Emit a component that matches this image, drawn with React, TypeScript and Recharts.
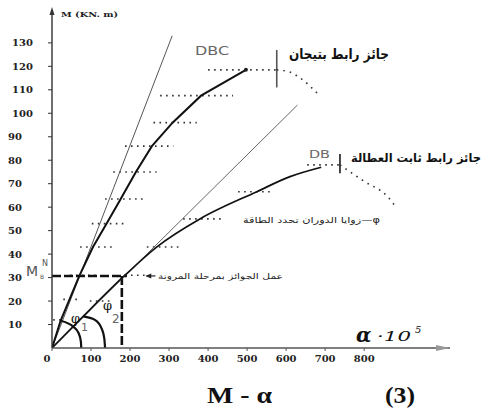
import React from 'react';
import { ComposedChart, Line, XAxis, YAxis, ReferenceLine, ReferenceDot } from 'recharts';

const xTicks = [0, 100, 200, 300, 400, 500, 600, 700, 800];
const yTicks = [10, 20, 30, 40, 50, 60, 70, 80, 90, 100, 110, 120, 130];

const steepRef = [{ x: 0, y: 0 }, { x: 308, y: 133 }];
const shallowRef = [{ x: 0, y: 0 }, { x: 629, y: 103.5 }];

const dbcCurve = [
  { x: 0, y: 0 }, { x: 22, y: 11.6 }, { x: 70, y: 30.7 }, { x: 105, y: 43 },
  { x: 140, y: 53 }, { x: 176, y: 63.5 }, { x: 215, y: 75 }, { x: 256, y: 86 },
  { x: 309, y: 96 }, { x: 382, y: 107.5 }, { x: 497, y: 118.5 },
];
const dbCurve = [
  { x: 0, y: 0 }, { x: 80, y: 13.5 }, { x: 187, y: 31 }, { x: 268, y: 43 },
  { x: 379, y: 55 }, { x: 525, y: 66.6 }, { x: 610, y: 73 }, { x: 690, y: 77 },
];
const dbcTail = [{ x: 576, y: 118.5 }, { x: 607, y: 117.7 }, { x: 637, y: 114.9 }, { x: 680, y: 108.5 }];
const dbTail = [{ x: 738, y: 78 }, { x: 800, y: 71 }, { x: 860, y: 64.5 }, { x: 877, y: 61 }];

const phi1Arc = [{ x: 22, y: 11.6 }, { x: 55, y: 9 }, { x: 68, y: 6.4 }, { x: 74, y: 2.7 }, { x: 75, y: 0 }];
const phi2Arc = [{ x: 80, y: 13.5 }, { x: 110, y: 12 }, { x: 127, y: 8.4 }, { x: 134, y: 4.1 }, { x: 136, y: 0 }];

// [level, from, to]
const dbcBands: [number, number, number][] = [
  [12, 3, 29], [20.7, 29, 72], [31, 46, 123], [43, 72, 153], [53, 102, 187],
  [63.5, 136, 243], [75, 157, 268], [86, 187, 311], [96, 260, 371],
  [107.5, 277, 464], [118.5, 400, 576],
];
const dbBands: [number, number, number][] = [
  [20, 97, 157], [31, 187, 238], [43, 243, 328], [55, 336, 438],
  [66.6, 477, 564], [78, 654, 738],
];

const mbn = 30.7;
const elasticX = 179;
const dbcBarX = 576;
const dbBarX = 738;

const YTick = (props: any) => {
  const { y, payload } = props;
  const v = payload.value;
  return (
    <text x={v >= 100 ? 12 : 8} y={y} dy={3.5} fontFamily="DejaVu Serif" fontWeight="bold" fontSize={10} fill="#222">
      {v}
    </text>
  );
};

const XTick = (props: any) => {
  const { x, payload } = props;
  const v = payload.value;
  return (
    <text x={x + (v === 0 ? -5 : 0)} y={362} textAnchor="middle" fontFamily="DejaVu Serif" fontWeight="bold" fontSize={10} fill="#222">
      {v}
    </text>
  );
};

const ArrowRight = (p: any) => (
  <path d={`M${p.cx},${p.cy} L${p.cx - 14},${p.cy - 3} L${p.cx - 14},${p.cy + 3} Z`} fill="#999" />
);
const ArrowUp = (p: any) => (
  <path d={`M${p.cx},${p.cy - 3} L${p.cx - 2.5},${p.cy + 5} L${p.cx + 2.5},${p.cy + 5} Z`} fill="#333" />
);
const ArrowLeft = (p: any) => (
  <path d={`M${p.cx},${p.cy} L${p.cx + 6},${p.cy - 2.5} L${p.cx + 6},${p.cy + 2.5} Z`} fill="#222" />
);

export default function App() {
  const dot = { stroke: '#333', strokeWidth: 1.6, strokeDasharray: '1.6 4.4' };
  return (
    <div style={{ position: 'absolute', left: 0, top: 0, width: 489, height: 416, background: '#fff' }}>
      <ComposedChart width={489} height={416} margin={{ top: 10, right: 39, bottom: 38, left: 2 }}>
        <XAxis
          type="number"
          dataKey="x"
          domain={[0, 1020]}
          ticks={xTicks}
          tick={<XTick />}
          tickSize={3}
          axisLine={{ stroke: '#555', strokeWidth: 1.4 }}
          tickLine={{ stroke: '#555' }}
          height={30}
          allowDataOverflow
        />
        <YAxis
          type="number"
          dataKey="y"
          domain={[0, 144]}
          ticks={yTicks}
          tick={<YTick />}
          tickSize={4}
          axisLine={{ stroke: '#333', strokeWidth: 1.4 }}
          tickLine={{ stroke: '#333' }}
          width={50}
          allowDataOverflow
        />
        {dbcBands.map(([lv, a, b], i) => (
          <ReferenceLine key={'c' + i} segment={[{ x: a, y: lv }, { x: b, y: lv }]} {...dot} />
        ))}
        {dbBands.map(([lv, a, b], i) => (
          <ReferenceLine key={'d' + i} segment={[{ x: a, y: lv }, { x: b, y: lv }]} {...dot} />
        ))}
        <ReferenceLine segment={[{ x: 0, y: mbn }, { x: 192, y: mbn }]} stroke="#111" strokeWidth={2.6} strokeDasharray="9 3" />
        <ReferenceLine segment={[{ x: elasticX, y: mbn }, { x: elasticX, y: 0 }]} stroke="#111" strokeWidth={2.6} strokeDasharray="9 3" />
        <ReferenceLine segment={[{ x: dbcBarX, y: 111 }, { x: dbcBarX, y: 127 }]} stroke="#555" strokeWidth={1.6} />
        <ReferenceLine segment={[{ x: dbBarX, y: 74.4 }, { x: dbBarX, y: 82.6 }]} stroke="#333" strokeWidth={1.8} />
        <ReferenceLine segment={[{ x: 243, y: mbn }, { x: 265, y: mbn }]} stroke="#222" strokeWidth={1.2} />
        <Line data={steepRef} dataKey="y" stroke="#555" strokeWidth={1} dot={false} isAnimationActive={false} />
        <Line data={shallowRef} dataKey="y" stroke="#666" strokeWidth={1} dot={false} isAnimationActive={false} />
        <Line data={dbcCurve} dataKey="y" type="linear" stroke="#111" strokeWidth={2} dot={false} isAnimationActive={false} />
        <Line data={dbCurve} dataKey="y" type="monotone" stroke="#111" strokeWidth={1.7} dot={false} isAnimationActive={false} />
        <Line data={dbcTail} dataKey="y" type="monotone" stroke="#333" strokeWidth={1.6} strokeDasharray="1.6 5" dot={false} isAnimationActive={false} />
        <Line data={dbTail} dataKey="y" type="monotone" stroke="#333" strokeWidth={1.6} strokeDasharray="1.6 5" dot={false} isAnimationActive={false} />
        <Line data={phi1Arc} dataKey="y" type="monotone" stroke="#111" strokeWidth={2.2} dot={false} isAnimationActive={false} />
        <Line data={phi2Arc} dataKey="y" type="monotone" stroke="#111" strokeWidth={2.2} dot={false} isAnimationActive={false} />
        <ReferenceDot x={497} y={118.5} r={2} fill="#222" stroke="none" />
        <ReferenceDot x={1020} y={0} shape={<ArrowRight />} />
        <ReferenceDot x={0} y={144} shape={<ArrowUp />} />
        <ReferenceDot x={239} y={mbn} shape={<ArrowLeft />} />
      </ComposedChart>
      <svg width={489} height={416} style={{ position: 'absolute', left: 0, top: 0, pointerEvents: 'none' }}>
        <text x={61} y={17} fontFamily="DejaVu Serif" fontWeight="bold" fontSize={8} fill="#222" textLength={57} lengthAdjust="spacingAndGlyphs">M (KN. m)</text>
        <text x={195} y={55} fontFamily="DejaVu Sans" fontSize={12} fill="#666" textLength={34} lengthAdjust="spacingAndGlyphs">DBC</text>
        <text x={289} y={59} fontFamily="DejaVu Sans" fontWeight="bold" fontSize={14} fill="#111" textLength={100} lengthAdjust="spacingAndGlyphs">جائز رابط بتيجان</text>
        <text x={309} y={158} fontFamily="DejaVu Sans" fontSize={11} fill="#666" textLength={21} lengthAdjust="spacingAndGlyphs">DB</text>
        <text x={351} y={162} fontFamily="DejaVu Sans" fontWeight="bold" fontSize={11.5} fill="#111" textLength={130} lengthAdjust="spacingAndGlyphs">جائز رابط ثابت العطالة</text>
        <text x={243} y={223} fontFamily="DejaVu Sans" fontSize={8.5} fill="#222" textLength={137} lengthAdjust="spacingAndGlyphs">زوايا الدوران تحدد الطاقة—φ</text>
        <text x={158} y={279} fontFamily="DejaVu Sans" fontSize={8} fill="#222" textLength={125} lengthAdjust="spacingAndGlyphs">عمل الجوائز بمرحلة المرونة</text>
        <text x={26} y={276} fontFamily="DejaVu Sans" fontSize={14} fill="#555">M</text>
        <text x={42} y={266} fontFamily="DejaVu Sans" fontSize={8} fill="#555">N</text>
        <text x={40} y={279} fontFamily="DejaVu Sans" fontSize={6} fill="#555">B</text>
        <text x={71} y={323} fontFamily="DejaVu Serif" fontSize={13} fill="#111">φ</text>
        <text x={81} y={331} fontFamily="DejaVu Sans" fontSize={11} fill="#666">1</text>
        <text x={103} y={310} fontFamily="DejaVu Serif" fontSize={13} fill="#111">φ</text>
        <text x={112} y={323} fontFamily="DejaVu Sans" fontSize={12} fill="#666">2</text>
        <text x={356} y={342} fontFamily="DejaVu Serif" fontStyle="italic" fontWeight="bold" fontSize={20} fill="#111">α</text>
        <text x={377} y={341} fontFamily="DejaVu Serif" fontStyle="italic" fontSize={12} fill="#111" textLength={34} lengthAdjust="spacingAndGlyphs">·10</text>
        <text x={415} y={333} fontFamily="DejaVu Serif" fontStyle="italic" fontSize={10} fill="#111">5</text>
        <text x={207} y={403} fontFamily="Liberation Serif" fontWeight="bold" fontSize={24} fill="#111" textLength={65} lengthAdjust="spacingAndGlyphs">M - α</text>
        <text x={385} y={403} fontFamily="Liberation Serif" fontWeight="bold" fontSize={24} fill="#111" textLength={30} lengthAdjust="spacingAndGlyphs">(3)</text>
      </svg>
    </div>
  );
}
